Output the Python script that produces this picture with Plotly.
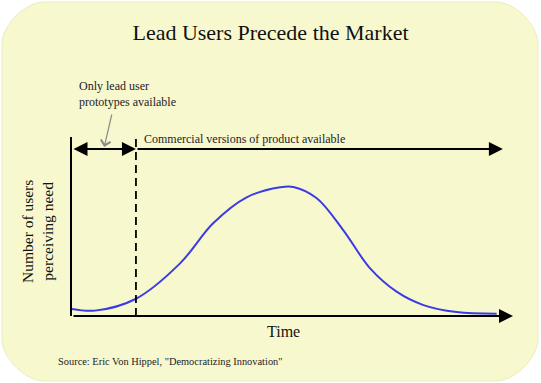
import plotly.graph_objects as go

# ---- data ----
time = [0.0, 5.2, 14.4, 24.5, 32.0, 39.6, 47.2, 50.2, 55.5, 61.5, 67.6, 73.6, 79.7, 87.2, 96.3]
users = [3.9, 3.0, 9.5, 29.4, 51.8, 66.3, 71.9, 72.1, 65.8, 48.0, 26.6, 13.6, 6.1, 2.2, 1.3]
commercial_start = 14.5      # end of the "lead users only" period
time_end = 100
commercial_end = 97.7
period_level = 93.3

title_text = "Lead Users Precede the Market"
lead_text = "Only lead user<br>prototypes available"
commercial_text = "Commercial versions of product available"
x_title = "Time"
y_title = "Number of users<br>perceiving need"
source_text = 'Source: Eric Von Hippel, "Democratizing Innovation"'

SERIF = "Liberation Serif, Times New Roman, serif"
BG = "#f8f8cf"

fig = go.Figure()
fig.add_trace(go.Scatter(
    x=time, y=users, mode="lines",
    line=dict(color="#3b3be4", width=2, shape="spline", smoothing=1.0),
    hoverinfo="skip", showlegend=False,
))

# rounded background panel (paper coords)
W, H = 541, 383
L, R, T, B = 72, 28, 137, 67
pw, ph = W - L - R, H - T - B
def px(x):
    return (x - L) / pw
def py(y):
    return (H - B - y) / ph
x0, x1, y0, y1, r = 2, 538, 2, 381, 42
k = 0.45 * r
path = (
    f"M {px(x0+r)},{py(y0)} L {px(x1-r)},{py(y0)} "
    f"C {px(x1-r+k)},{py(y0)} {px(x1)},{py(y0+r-k)} {px(x1)},{py(y0+r)} "
    f"L {px(x1)},{py(y1-r)} "
    f"C {px(x1)},{py(y1-r+k)} {px(x1-r+k)},{py(y1)} {px(x1-r)},{py(y1)} "
    f"L {px(x0+r)},{py(y1)} "
    f"C {px(x0+r-k)},{py(y1)} {px(x0)},{py(y1-r+k)} {px(x0)},{py(y1-r)} "
    f"L {px(x0)},{py(y0+r)} "
    f"C {px(x0)},{py(y0+r-k)} {px(x0+r-k)},{py(y0)} {px(x0+r)},{py(y0)} Z"
)
fig.add_shape(type="path", path=path, xref="paper", yref="paper",
              fillcolor=BG, line=dict(color="#ecebc0", width=1), layer="below")

# dashed separator
fig.add_shape(type="line", xref="x", yref="y", x0=commercial_start, x1=commercial_start,
              y0=0, y1=100, line=dict(color="black", width=1.8, dash="8px,5px"))

annos = []
# x axis arrow
annos.append(dict(x=time_end, y=0, ax=0, ay=0, xref="x", yref="y", axref="x", ayref="y",
                  text="", showarrow=True, arrowhead=2, arrowsize=1.4, arrowwidth=2,
                  arrowcolor="black", standoff=0))
# lead-user period double arrow
annos.append(dict(x=commercial_start, y=period_level, ax=0, ay=period_level,
                  xref="x", yref="y", axref="x", ayref="y", text="", showarrow=True,
                  arrowhead=2, startarrowhead=2, arrowside="end+start",
                  arrowsize=1.4, startarrowsize=1.4, arrowwidth=2, arrowcolor="black",
                  standoff=0, startstandoff=0))
# commercial period arrow
annos.append(dict(x=commercial_end, y=period_level, ax=commercial_start, ay=period_level,
                  xref="x", yref="y", axref="x", ayref="y", text="", showarrow=True,
                  arrowhead=2, arrowsize=1.4, arrowwidth=2, arrowcolor="black", standoff=0))
# gray pointer
annos.append(dict(x=7.3, y=94.4, ax=9.1, ay=113.4, xref="x", yref="y", axref="x", ayref="y",
                  text="", showarrow=True, arrowhead=4, arrowsize=1.6, arrowwidth=1.2,
                  arrowcolor="#8a8a8a", standoff=0))
# texts
annos.append(dict(x=px(77), y=py(94), xref="paper", yref="paper", text=lead_text,
                  showarrow=False, xanchor="left", yanchor="middle", align="left",
                  font=dict(family=SERIF, size=12, color="#222")))
annos.append(dict(x=px(142), y=py(139), xref="paper", yref="paper", text=commercial_text,
                  showarrow=False, xanchor="left", yanchor="middle", align="left",
                  font=dict(family=SERIF, size=12, color="#222")))
annos.append(dict(x=px(283), y=py(331), xref="paper", yref="paper", text=x_title,
                  showarrow=False, xanchor="center", yanchor="middle",
                  font=dict(family=SERIF, size=16, color="#111")))
annos.append(dict(x=px(37), y=py(232), xref="paper", yref="paper", text=y_title,
                  showarrow=False, xanchor="center", yanchor="middle", textangle=-90,
                  font=dict(family=SERIF, size=15.5, color="#111")))
annos.append(dict(x=px(56), y=py(361), xref="paper", yref="paper", text=source_text,
                  showarrow=False, xanchor="left", yanchor="middle",
                  font=dict(family=SERIF, size=10.4, color="#222")))

fig.update_layout(
    width=W, height=H,
    margin=dict(l=L, r=R, t=T, b=B, pad=0),
    paper_bgcolor="white",
    plot_bgcolor="rgba(0,0,0,0)",
    title=dict(text=title_text, x=0.5, xref="container", xanchor="center",
               y=1 - 32 / H, yref="container", yanchor="middle",
               font=dict(family=SERIF, size=22, color="#111")),
    xaxis=dict(range=[0, 100], showgrid=False, zeroline=False, showticklabels=False,
               ticks="", showline=False, fixedrange=True),
    yaxis=dict(range=[0, 100], showgrid=False, zeroline=False, showticklabels=False,
               ticks="", showline=True, linecolor="black", linewidth=2, fixedrange=True),
    annotations=annos,
    showlegend=False,
)

fig.write_html("out.html", config={"displayModeBar": False},
               post_script="document.body.style.margin='0';document.body.style.overflow='hidden';")
